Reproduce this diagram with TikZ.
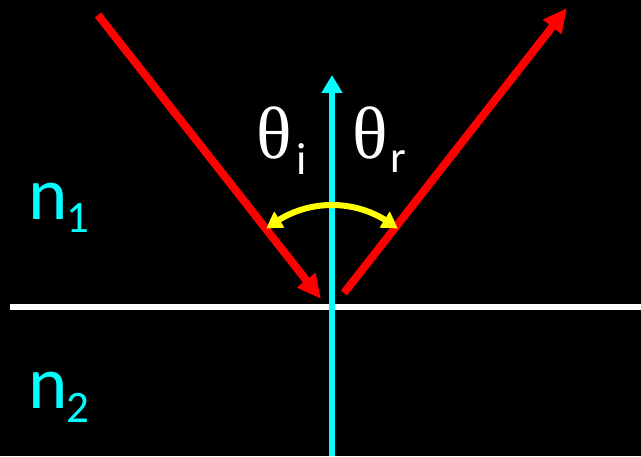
\documentclass[tikz,border=0pt]{standalone}
\usepackage{fontspec}
\setmainfont{Carlito}
\newfontfamily\thetafont{Liberation Serif}
\usetikzlibrary{arrows.meta,bending}
\definecolor{normalcyan}{HTML}{00FFFF}
\definecolor{rayred}{HTML}{FF0000}
\definecolor{arcyellow}{HTML}{FFFF00}

\begin{document}
\begin{tikzpicture}[x=1pt,y=1pt,
    ray/.style={draw=rayred,line width=8pt,-{Triangle[length=24pt,width=22pt]}},
    normal/.style={draw=normalcyan,line width=6.5pt,-{Triangle[length=18pt,width=20pt]}},
    surface/.style={draw=white,line width=5.5pt},
    anglearc/.style={draw=arcyellow,line width=6pt,{Triangle[length=16pt,width=18pt,bend]}-{Triangle[length=16pt,width=18pt,bend]}},
    greek/.style={text=white,inner sep=0pt,anchor=base west,font=\thetafont\fontsize{74}{80}\selectfont},
    sub/.style={inner sep=0pt,anchor=base west,font=\fontsize{45}{50}\selectfont},
    medium/.style={text=normalcyan,inner sep=0pt,anchor=base west,font=\fontsize{75}{80}\selectfont}]
    \fill[black] (0,0) rectangle (641,456);
    \useasboundingbox (0,0) rectangle (641,456);
    % points of the rays and the normal
    \coordinate (hit) at (332,149);
    \coordinate (surfL) at (10,149);
    \coordinate (surfR) at (641,149);
    \coordinate (normB) at (332,0);
    \coordinate (normT) at (332,381);
    \coordinate (incA) at (98,441);
    \coordinate (incB) at (321,157);
    \coordinate (refA) at (344,163);
    \coordinate (refB) at (567,448);
    \draw[surface] (surfL)--(surfR);
    \draw[normal] (normB)--(normT);
    \draw[ray] (incA)--(incB);
    \draw[ray] (refA)--(refB);
    \draw[anglearc] ([shift={(130:102)}]hit) arc[start angle=130,end angle=50,radius=102];
    % labels
    \node[greek] (thi) at (256,297) {θ};
    \node[sub,text=white] (subi) at (296,281) {i};
    \node[greek] (thr) at (352,297) {θ};
    \node[sub,text=white] (subr) at (390,283) {r};
    \node[medium] (n1) at (28,236) {n};
    \node[sub,text=normalcyan] (sub1) at (66,223) {1};
    \node[medium] (n2) at (28,48) {n};
    \node[sub,text=normalcyan] (sub2) at (66,34) {2};
\end{tikzpicture}
\end{document}
